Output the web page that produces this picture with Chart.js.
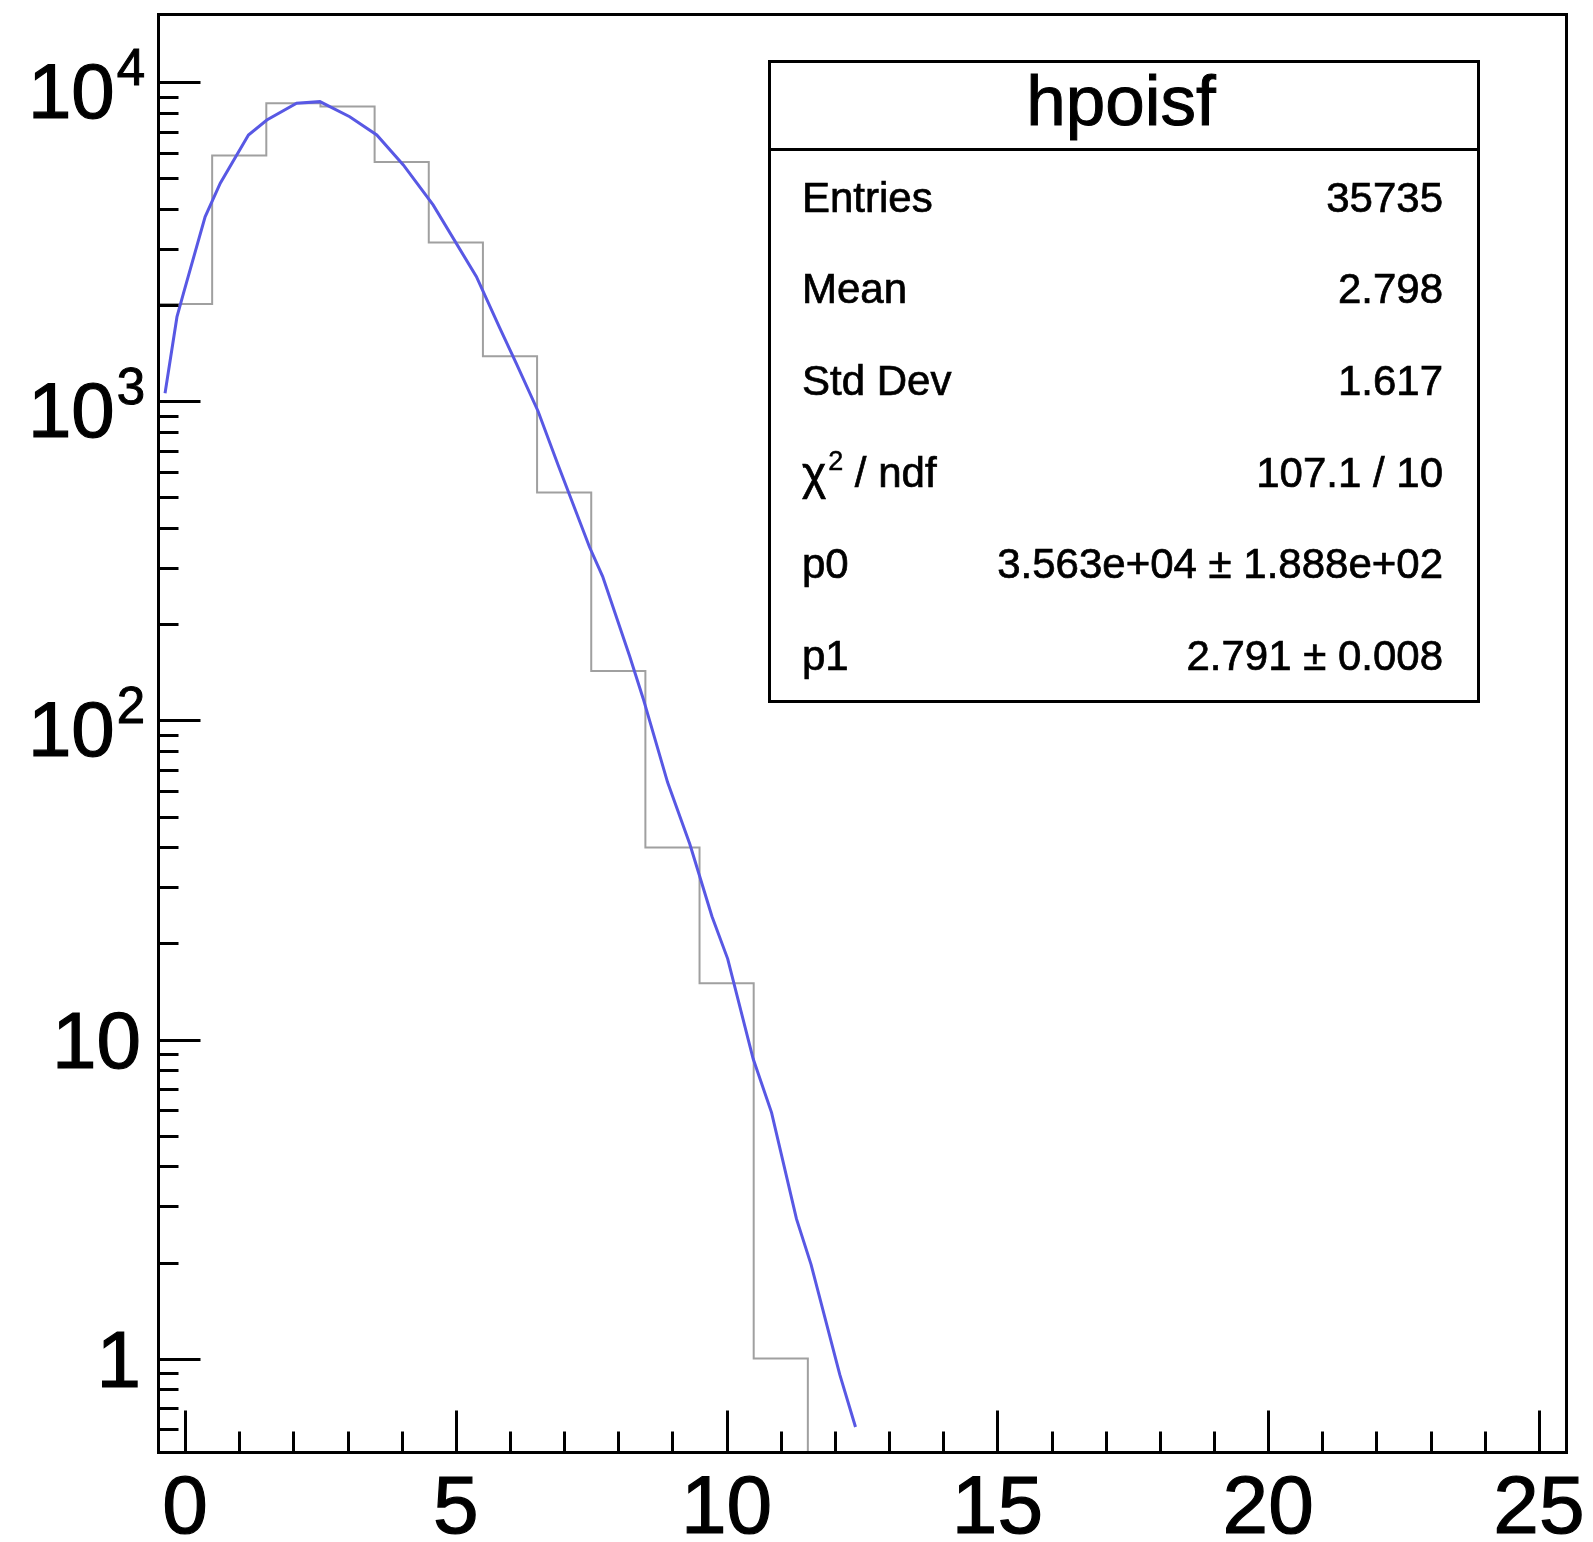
<!DOCTYPE html>
<html>
<head>
<meta charset="utf-8">
<title>hpoisf</title>
<script src="https://cdn.jsdelivr.net/npm/chart.js@4.4.1/dist/chart.umd.min.js"></script>
<style>
  html, body { margin: 0; padding: 0; background: #fff; }
  canvas { display: block; }
</style>
</head>
<body>
<canvas id="hpoisf" width="1593" height="1542"></canvas>
<script>
// histogram: one bin per integer, contents
var binCenters = [0, 1, 2, 3, 4, 5, 6, 7, 8, 9, 10, 11, 12, 13, 14, 15, 16, 17, 18, 19, 20, 21, 22, 23, 24, 25];
var binCounts = [2020, 5900, 8600, 8400, 5630, 3150, 1385, 518, 143, 40, 15, 1, 0, 0, 0, 0, 0, 0, 0, 0, 0, 0, 0, 0, 0, 0];

// fitted poisson curve
var fitX = [-0.37, -0.15, -0.03, 0.37, 0.65, 1.17, 1.51, 2.06, 2.49, 3.04, 3.54, 4.03, 4.58, 5.38, 5.81, 6.12, 6.52, 6.89, 7.47, 7.71, 8.21, 8.46, 8.91, 9.32, 9.73, 10.02, 10.49, 10.83, 11.29, 11.56, 12.09, 12.38];
var fitY = [1060, 1840, 2180, 3790, 4830, 6840, 7620, 8600, 8700, 7800, 6840, 5510, 4130, 2460, 1700, 1310, 930, 631, 349, 283, 159, 117, 64, 41, 24.3, 17.9, 8.7, 5.9, 2.74, 1.97, 0.89, 0.61];

var xMajorTicks = [0, 5, 10, 15, 20, 25];
var xTickLabels = ['0', '5', '10', '15', '20', '25'];
var yMajorTicks = [1, 10, 100, 1000, 10000];
var yTickBase = ['1', '10', '10', '10', '10'];
var yTickExp = ['', '', '2', '3', '4'];

var statsTitle = 'hpoisf';
var statsNames = ['Entries', 'Mean', 'Std Dev', '\u03c7^2 / ndf', 'p0', 'p1'];
var statsValues = ['35735', '2.798', '1.617', '107.1 / 10', '3.563e+04 \u00b1 1.888e+02', '2.791 \u00b1 0.008'];

var xMin = -0.5, xMax = 25.5;
var yMin = 0.5095, yMax = 16377;

var FONT = '"Liberation Sans", Arial, Helvetica, sans-serif';

// step points on the bin edges; empty bins sit on the frame floor like in ROOT
var histPoints = [];
for (var i = 0; i < binCenters.length; i++) {
    histPoints.push({x: binCenters[i] - 0.5, y: Math.max(binCounts[i], yMin)});
}
histPoints.push({x: binCenters[binCenters.length - 1] + 0.5, y: Math.max(binCounts[binCounts.length - 1], yMin)});

var fitPoints = fitX.map(function (x, i) { return {x: x, y: fitY[i]}; });

// text a bit heavier, closer to the ROOT/Helvetica output
function boldText(ctx, s, x, y, w) {
    ctx.fillText(s, x, y);
    ctx.lineWidth = w;
    ctx.strokeText(s, x, y);
}

var rootAxes = {
    id: 'rootAxes',
    afterDatasetsDraw: function (chart) {
        var ctx = chart.ctx;
        var a = chart.chartArea;
        var xs = chart.scales.x;
        var ys = chart.scales.y;
        ctx.save();
        ctx.strokeStyle = '#000';
        ctx.lineWidth = 3;
        ctx.strokeRect(a.left + 0.5, a.top + 0.5, a.right - a.left, a.bottom - a.top);

        var bottom = a.bottom + 0.5, left = a.left + 0.5;
        ctx.lineWidth = 3;
        ctx.beginPath();
        for (var v = Math.ceil(xs.min); v <= xs.max; v++) {
            var px = Math.round(xs.getPixelForValue(v)) + 0.5;
            var len = xMajorTicks.indexOf(v) >= 0 ? 42 : 21;
            ctx.moveTo(px, bottom);
            ctx.lineTo(px, bottom - len);
        }
        for (var e = -1; e <= 4; e++) {
            for (var k = 1; k <= 9; k++) {
                var val = k * Math.pow(10, e);
                if (val < ys.min || val > ys.max) continue;
                var py = Math.round(ys.getPixelForValue(val)) + 0.5;
                ctx.moveTo(left, py);
                ctx.lineTo(left + (k === 1 ? 42 : 20), py);
            }
        }
        ctx.stroke();

        ctx.fillStyle = '#000';
        ctx.textBaseline = 'alphabetic';
        ctx.font = '82px ' + FONT;
        ctx.textAlign = 'center';
        xMajorTicks.forEach(function (v, i) {
            boldText(ctx, xTickLabels[i], xs.getPixelForValue(v), a.bottom + 81, 1.2);
        });

        var rightEdge = a.left - 15;
        yMajorTicks.forEach(function (v, i) {
            var py = ys.getPixelForValue(v);
            if (yTickExp[i]) {
                ctx.font = '51px ' + FONT;
                var w = ctx.measureText(yTickExp[i]).width;
                ctx.textAlign = 'left';
                boldText(ctx, yTickExp[i], rightEdge - w + 2, py + 3, 1);
                ctx.font = '78px ' + FONT;
                ctx.textAlign = 'right';
                boldText(ctx, yTickBase[i], rightEdge - w, py + 36, 1.2);
            } else {
                ctx.font = '80px ' + FONT;
                ctx.textAlign = 'right';
                boldText(ctx, yTickBase[i], rightEdge - 2, py + 28, 1.2);
            }
        });
        ctx.restore();
    },
    afterDraw: function (chart) {
        var ctx = chart.ctx;
        var bx = 769.5, by = 61.5, bw = 709, bh = 640;
        ctx.save();
        ctx.fillStyle = '#fff';
        ctx.fillRect(bx, by, bw, bh);
        ctx.strokeStyle = '#000';
        ctx.lineWidth = 3;
        ctx.strokeRect(bx, by, bw, bh);
        ctx.beginPath();
        ctx.moveTo(bx, 149.5);
        ctx.lineTo(bx + bw, 149.5);
        ctx.stroke();

        ctx.fillStyle = '#000';
        ctx.textBaseline = 'alphabetic';
        ctx.font = '71px ' + FONT;
        ctx.textAlign = 'center';
        boldText(ctx, statsTitle, 1121, 125, 1);

        for (var i = 0; i < statsNames.length; i++) {
            var base = 211.7 + i * 91.6;
            var name = statsNames[i];
            ctx.font = '42px ' + FONT;
            ctx.textAlign = 'left';
            if (name.indexOf('^') >= 0) {
                var parts = name.split('^');
                var x = 802;
                ctx.font = '46px ' + FONT;
                boldText(ctx, parts[0], x, base + 2, 0.7);
                x += ctx.measureText(parts[0]).width + 2;
                ctx.font = '27px ' + FONT;
                boldText(ctx, parts[1].charAt(0), x, base - 17, 0.5);
                x += ctx.measureText(parts[1].charAt(0)).width;
                ctx.font = '42px ' + FONT;
                boldText(ctx, parts[1].slice(1), x, base, 0.7);
            } else {
                boldText(ctx, name, 802, base, 0.7);
            }
            ctx.textAlign = 'right';
            boldText(ctx, statsValues[i], 1443, base, 0.7);
        }
        ctx.restore();
    }
};

var area = document.getElementById('hpoisf').getContext('2d');
var hChart = new Chart(area, {
    type: 'line',
    data: {
        datasets: [{
            label: 'fit',
            data: fitPoints,
            borderColor: 'rgb(88, 88, 228)',
            borderWidth: 3,
            pointRadius: 0,
            tension: 0,
            fill: false,
            order: 0
        }, {
            label: 'hpoisf',
            data: histPoints,
            borderColor: 'rgb(160, 160, 160)',
            borderWidth: 2,
            pointRadius: 0,
            stepped: 'before',
            fill: false,
            order: 1
        }]
    },
    options: {
        responsive: false,
        animation: false,
        devicePixelRatio: 1,
        layout: {
            padding: {left: 158, top: 14, right: 27, bottom: 90}
        },
        scales: {
            x: {
                type: 'linear',
                min: xMin,
                max: xMax,
                display: false
            },
            y: {
                type: 'logarithmic',
                min: yMin,
                max: yMax,
                display: false
            }
        },
        plugins: {
            legend: {display: false},
            tooltip: {enabled: false}
        }
    },
    plugins: [rootAxes]
});
</script>
</body>
</html>
